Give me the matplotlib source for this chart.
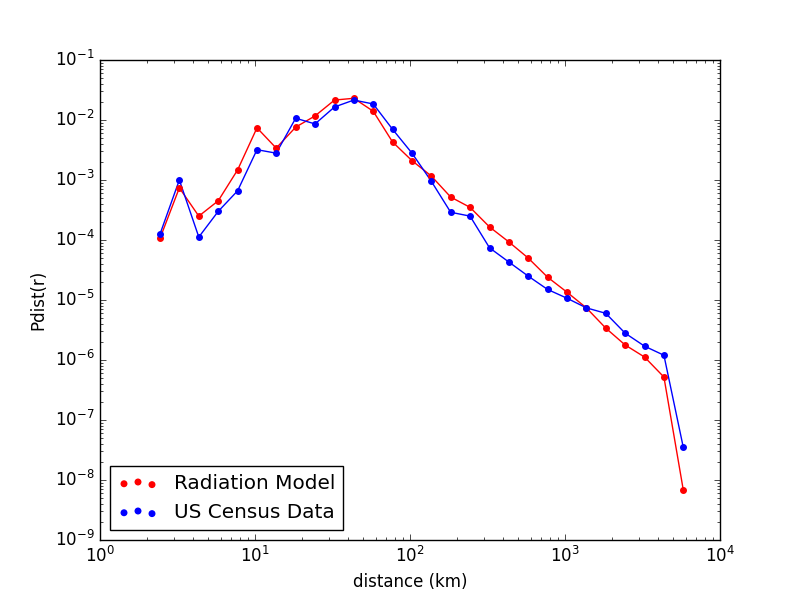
import matplotlib
matplotlib.use("Agg")
import matplotlib.pyplot as plt

plt.style.use('classic')

distance = [2.44, 3.25, 4.34, 5.79, 7.72, 10.3, 13.7, 18.3, 24.4, 32.6, 43.4, 57.9,
            77.2, 103, 137, 183, 244, 326, 434, 579, 772, 1030, 1373, 1832, 2443,
            3260, 4347, 5797]
radiation = [1.07e-4, 7.4e-4, 2.5e-4, 4.5e-4, 1.47e-3, 7.4e-3, 3.4e-3, 7.6e-3, 1.17e-2,
             2.15e-2, 2.3e-2, 1.4e-2, 4.3e-3, 2.1e-3, 1.17e-3, 5.2e-4, 3.5e-4, 1.65e-4,
             9.3e-5, 5e-5, 2.4e-5, 1.35e-5, 7.4e-6, 3.4e-6, 1.78e-6, 1.12e-6, 5.2e-7, 6.8e-9]
census = [1.26e-4, 1e-3, 1.12e-4, 3e-4, 6.6e-4, 3.2e-3, 2.8e-3, 1.07e-2, 8.6e-3,
          1.65e-2, 2.15e-2, 1.85e-2, 7e-3, 2.8e-3, 9.6e-4, 2.9e-4, 2.5e-4, 7.4e-5,
          4.3e-5, 2.5e-5, 1.5e-5, 1.07e-5, 7.4e-6, 6e-6, 2.8e-6, 1.7e-6, 1.2e-6, 3.5e-8]

fig, ax = plt.subplots(figsize=(8, 6), dpi=100)
ax.plot(distance, radiation, 'r-')
ax.plot(distance, census, 'b-')
ax.scatter(distance, radiation, s=16, c='r', edgecolors='r', label='Radiation Model', zorder=3)
ax.scatter(distance, census, s=16, c='b', edgecolors='b', label='US Census Data', zorder=3)
ax.set_xscale('log')
ax.set_yscale('log')
ax.set_xlim(1, 1e4)
ax.set_ylim(1e-9, 1e-1)
ax.set_xlabel('distance (km)')
ax.set_ylabel('Pdist(r)')
ax.legend(loc='lower left')
fig.savefig('out.png', dpi=100)
